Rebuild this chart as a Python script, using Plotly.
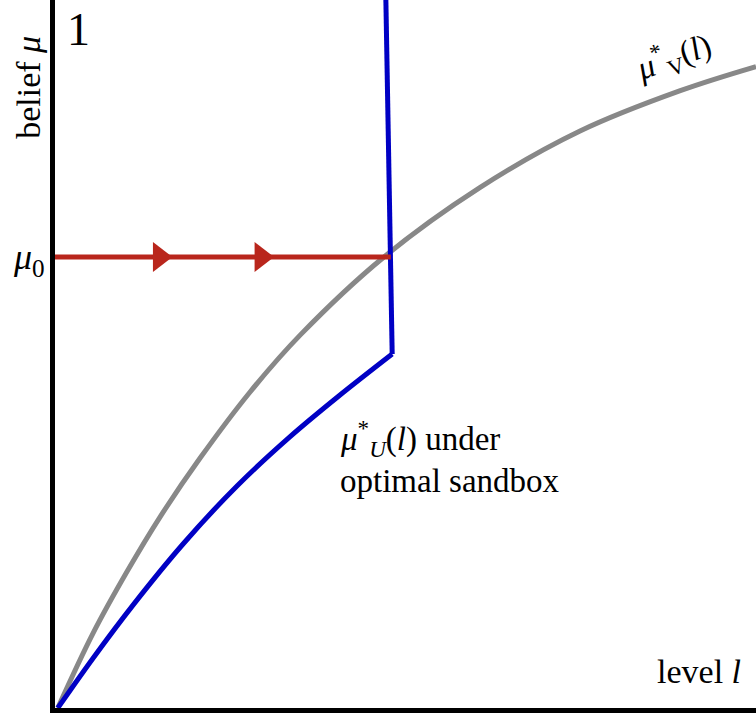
import plotly.graph_objects as go

# mu*_V(l): grey curve
level_v = [0.004, 0.054, 0.103, 0.150, 0.207, 0.278, 0.350, 0.468, 0.606, 0.749, 0.892, 1.0]
belief_v = [0.0, 0.105, 0.193, 0.270, 0.353, 0.446, 0.527, 0.636, 0.735, 0.815, 0.872, 0.906]

# mu*_U(l) under optimal sandbox: blue curve, then the jump up
level_u = [0.004, 0.054, 0.111, 0.183, 0.260, 0.335, 0.404, 0.481, 0.472]
belief_u = [0.0, 0.070, 0.145, 0.232, 0.314, 0.383, 0.440, 0.500, 1.0]

# prior mu_0 path
mu0 = 0.637
level_path = [0.0, 0.479]
arrow_level = [0.149, 0.294]

serif = "Liberation Serif, DejaVu Serif, serif"

fig = go.Figure()
fig.add_trace(go.Scatter(x=level_v, y=belief_v, mode="lines", line_shape="spline",
                         line=dict(color="#888888", width=5), hoverinfo="skip"))
fig.add_trace(go.Scatter(x=level_u[:8], y=belief_u[:8], mode="lines", line_shape="spline",
                         line=dict(color="#0000c4", width=5), hoverinfo="skip"))
fig.add_trace(go.Scatter(x=level_u[7:], y=belief_u[7:], mode="lines",
                         line=dict(color="#0000c4", width=5), hoverinfo="skip"))
fig.add_trace(go.Scatter(x=level_path, y=[mu0] * len(level_path), mode="lines",
                         line=dict(color="#b9261c", width=5), hoverinfo="skip"))
fig.add_trace(go.Scatter(x=arrow_level, y=[mu0] * len(arrow_level), mode="markers",
                         marker=dict(symbol="triangle-right", size=26, color="#b9261c"),
                         hoverinfo="skip"))

def label(text, x, y, size=33, **kw):
    fig.add_annotation(text=text, x=x, y=y, xref="paper", yref="paper", showarrow=False,
                       font=dict(family=serif, size=size, color="black"), **kw)

label("1", 0.033, 0.958, size=46, xanchor="center", yanchor="middle")
label("belief <i>μ</i>", -0.037, 0.876, size=34, textangle=-90, xanchor="center", yanchor="middle")
label("<i>μ</i><sub>0</sub>", -0.011, 0.634, size=36, xanchor="right", yanchor="middle")
label("level <i>l</i>", 0.981, 0.052, size=34, xanchor="right", yanchor="middle")
label("<i>μ</i><sup>*</sup><sub><i>U</i></sub>(<i>l</i>) under", 0.404, 0.380,
      xanchor="left", yanchor="middle")
label("optimal sandbox", 0.404, 0.321, xanchor="left", yanchor="middle")
label("<i>μ</i><sup>*</sup><sub>V</sub>(<i>l</i>)", 0.882, 0.920, textangle=-20,
      xanchor="center", yanchor="middle")

fig.update_xaxes(range=[0, 1], showline=True, linewidth=5, linecolor="black",
                 showgrid=False, zeroline=False, showticklabels=False, ticks="")
fig.update_yaxes(range=[0, 1], showline=True, linewidth=5, linecolor="black",
                 showgrid=False, zeroline=False, showticklabels=False, ticks="")
fig.update_layout(
    width=756, height=726,
    margin=dict(l=55, r=0, t=0, b=18),
    plot_bgcolor="white", paper_bgcolor="white",
    showlegend=False,
)
fig.write_html("out.html", config={"displayModeBar": False},
               post_script="document.body.style.margin='0';")
